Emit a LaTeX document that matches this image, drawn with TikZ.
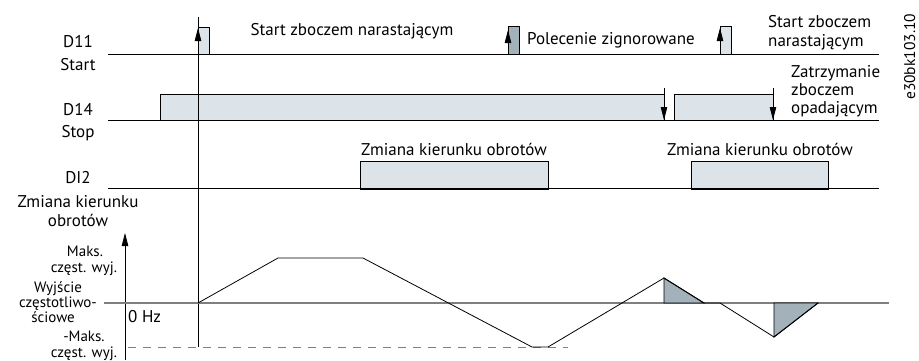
\documentclass[tikz,border=0pt]{standalone}
\usepackage{fontspec}
\setmainfont{PT Sans}
\usetikzlibrary{arrows.meta}
\definecolor{lightfill}{HTML}{DCE3E9}
\definecolor{darkfill}{HTML}{A3B1BB}
\definecolor{zerogray}{HTML}{7F7F7F}
\begin{document}
\begin{tikzpicture}[x=1pt,y=-1pt,
  big/.style={font=\fontsize{17}{19}\selectfont, inner sep=0pt, anchor=base},
  bigw/.style={big, anchor=base west},
  small/.style={font=\fontsize{15}{17}\selectfont, inner sep=0pt, anchor=base},
  sig/.style={line width=0.8pt},
  pulse/.style={draw, line width=0.7pt, fill=lightfill},
  dpulse/.style={draw, line width=0.7pt, fill=darkfill},
  tri/.style={draw, line width=0.9pt, fill=darkfill},
  arr/.style={line width=0.8pt, -{Triangle[length=13pt,width=6.5pt]}},
  zero/.style={line width=1.4pt, draw=zerogray},
  dashline/.style={line width=1pt, draw=zerogray, dash pattern=on 8pt off 7pt},
  curve/.style={line width=0.8pt, line join=miter}
]
\useasboundingbox (0,0) rectangle (919,360);

% ---------- pulses / boxes ----------
\draw[pulse]  (198,54) rectangle (209,27);
\draw[dpulse] (508,54) rectangle (519,26);
\draw[pulse]  (720,54) rectangle (731,26);
\draw[pulse]  (160,120) rectangle (664,94);
\draw[pulse]  (674,120) rectangle (773,94);
\draw[pulse]  (360,189) rectangle (548,161);
\draw[pulse]  (691,189) rectangle (828,161);

% ---------- signal baselines ----------
\draw[sig] (108,54) -- (879,54);
\draw[sig] (108,120) -- (879,120);
\draw[sig] (108,188) -- (879,188);

% ---------- time marker ----------
\coordinate (tTop) at (198,17);
\coordinate (tBot) at (198,347);
\draw[sig] (tTop) -- (tBot);

% ---------- edge arrows ----------
\coordinate (a1s) at (198,54); \coordinate (a1e) at (198,28);
\coordinate (a2s) at (508,54); \coordinate (a2e) at (508,30);
\coordinate (a3s) at (720,54); \coordinate (a3e) at (720,28);
\draw[arr] (a1s) -- (a1e);
\draw[arr] (a2s) -- (a2e);
\draw[arr] (a3s) -- (a3e);
\coordinate (b1s) at (664,88); \coordinate (b1e) at (664,120);
\coordinate (b2s) at (773,88); \coordinate (b2e) at (773,120);
\draw[arr] (b1s) -- (b1e);
\draw[arr] (b2s) -- (b2e);

% ---------- frequency plot ----------
\coordinate (axB) at (125,360);
\coordinate (axT) at (125,233);
\draw[arr] (axB) -- (axT);
\coordinate (z0) at (104,303);
\coordinate (z1) at (889,303);
\draw[zero] (z0) -- (z1);
\coordinate (d0) at (128,347);
\coordinate (d1) at (568,347);
\draw[dashline] (d0) -- (d1);

\draw[tri] (664,278) -- (664,303) -- (704,303) -- cycle;
\draw[tri] (774,337) -- (774,303) -- (818,303) -- cycle;

\draw[curve] (198,303) -- (278,258) -- (363,258) -- (532,347) -- (548,347)
  -- (664,278) -- (704,303) -- (720,303) -- (774,337) -- (818,303);

% ---------- left labels ----------
\node[big] (lD11)   at (78,47)  {D11};
\node[big] (lStart) at (78,70)  {Start};
\node[big] (lD14)   at (78,115) {D14};
\node[big] (lStop)  at (78,137) {Stop};
\node[big] (lDI2)   at (78,183) {DI2};
\node[big] (lZm)    at (78,207) {Zmiana kierunku};
\node[big] (lObr)   at (78,226) {obrotów};

\node[small] (lMaks)  at (85,256) {Maks.};
\node[small] (lCz1)   at (84,272) {częst. wyj.};
\node[small] (lWy1)   at (58,292) {Wyjście};
\node[small] (lWy2)   at (58,307) {częstotliwo-};
\node[small] (lWy3)   at (53,322) {ściowe};
\node[small] (lMMaks) at (84,341) {-Maks.};
\node[small] (lCz2)   at (84,357) {częst. wyj.};
\node[big, anchor=base west] (l0Hz) at (128,322) {0 Hz};

% ---------- annotations ----------
\node[big]  (tS1) at (352,35) {Start zboczem narastającym};
\node[bigw] (tPZ) at (527,44) {Polecenie zignorowane};
\node[bigw] (tS2a) at (768,27) {Start zboczem};
\node[bigw] (tS2b) at (768,46) {narastającym};
\node[bigw] (tZa) at (791,77) {Zatrzymanie};
\node[bigw] (tZb) at (791,95) {zboczem};
\node[bigw] (tZc) at (791,113) {opadającym};
\node[big] (tK1) at (454,155) {Zmiana kierunku obrotów};
\node[big] (tK2) at (760,155) {Zmiana kierunku obrotów};

\node[font=\fontsize{15.5}{17}\selectfont, inner sep=0pt, anchor=base west, rotate=90] (code) at (915,100) {e30bk103.10};
\end{tikzpicture}
\end{document}
